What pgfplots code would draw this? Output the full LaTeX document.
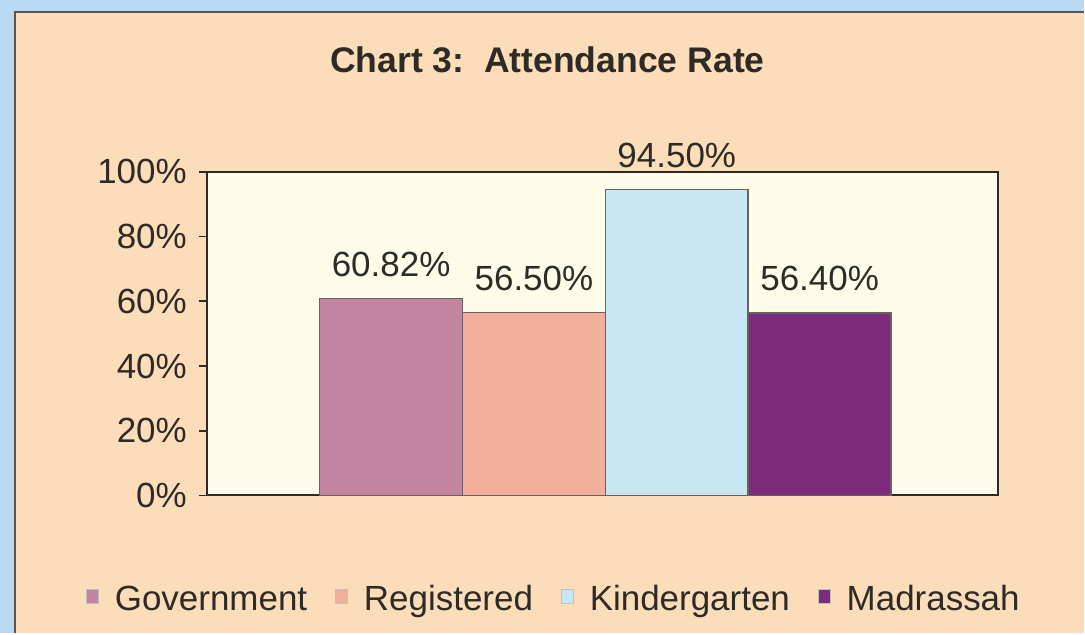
\documentclass[border=0pt]{standalone}
\usepackage{fontspec}
\setmainfont{Liberation Sans}
\usepackage{pgfplots}
\pgfplotsset{compat=1.18}

\definecolor{gov}{HTML}{C2849F}
\definecolor{reg}{HTML}{F2B09C}
\definecolor{kin}{HTML}{C9E6F5}
\definecolor{mad}{HTML}{7D2B7C}
\definecolor{plotbg}{HTML}{FFFDE9}
\definecolor{peach}{HTML}{FCDDB9}
\definecolor{outerblue}{HTML}{B9DAF2}
\definecolor{txt}{HTML}{2E2A26}
\definecolor{edge}{HTML}{6A6060}

\newcommand{\chartfont}{\fontsize{17.5}{20}\selectfont}

\begin{document}
\begin{tikzpicture}
% frame (1px = 0.5pt)
\fill[outerblue] (0,0) rectangle (542.5pt,317pt);
\fill[peach] (7.5pt,0) rectangle (542.5pt,311pt);
\draw[txt!80, line width=1.2pt] (7.5pt,0) -- (7.5pt,311pt) -- (542.5pt,311pt);

\node[font=\bfseries\fontsize{17.8}{20}\selectfont, text=txt] at (274pt,287pt) {Chart 3:\ \ Attendance Rate};

\begin{axis}[
    at={(103.5pt,69pt)}, anchor=south west,
    scale only axis,
    width=396pt, height=162pt,
    ybar=0pt, bar width=71.5pt,
    xmin=-1.0076, xmax=0.9924,
    ymin=0, ymax=100,
    xtick=\empty,
    ytick={0,20,...,100},
    ytick pos=left,
    yticklabel={\pgfmathprintnumber{\tick}\%},
    /pgf/number format/assume math mode=true,
    tick align=outside,
    major tick length=4pt,
    ytick style={draw=txt, line width=0.8pt},
    axis line style={draw=txt, line width=1pt},
    axis background/.style={fill=plotbg},
    tick label style={font=\chartfont, text=txt},
    yticklabel style={xshift=-2.5pt},
    nodes near coords={\pgfmathprintnumber[fixed,fixed zerofill,precision=2]{\pgfplotspointmeta}\%},
    every node near coord/.append style={font=\chartfont, text=txt, anchor=base, yshift=11pt},
    legend columns=4,
    legend style={draw=none, fill=none, at={(0.44,-0.321)}, anchor=center,
        font=\chartfont, text=txt,
        /tikz/every odd column/.append style={column sep=6pt},
        /tikz/every even column/.append style={column sep=12pt}},
    legend image code/.code={\fill[#1, draw=edge!40, line width=0.4pt] (0pt,-2pt) rectangle (6pt,5pt);},
]
\addplot[fill=gov, draw=edge, line width=0.7pt] coordinates {(0,60.82)};
\addplot[fill=reg, draw=edge, line width=0.7pt] coordinates {(0,56.50)};
\addplot[fill=kin, draw=edge, line width=0.7pt] coordinates {(0,94.50)};
\addplot[fill=mad, draw=edge, line width=0.7pt] coordinates {(0,56.40)};
\legend{Government, Registered, Kindergarten, Madrassah}
\end{axis}
\end{tikzpicture}
\end{document}
